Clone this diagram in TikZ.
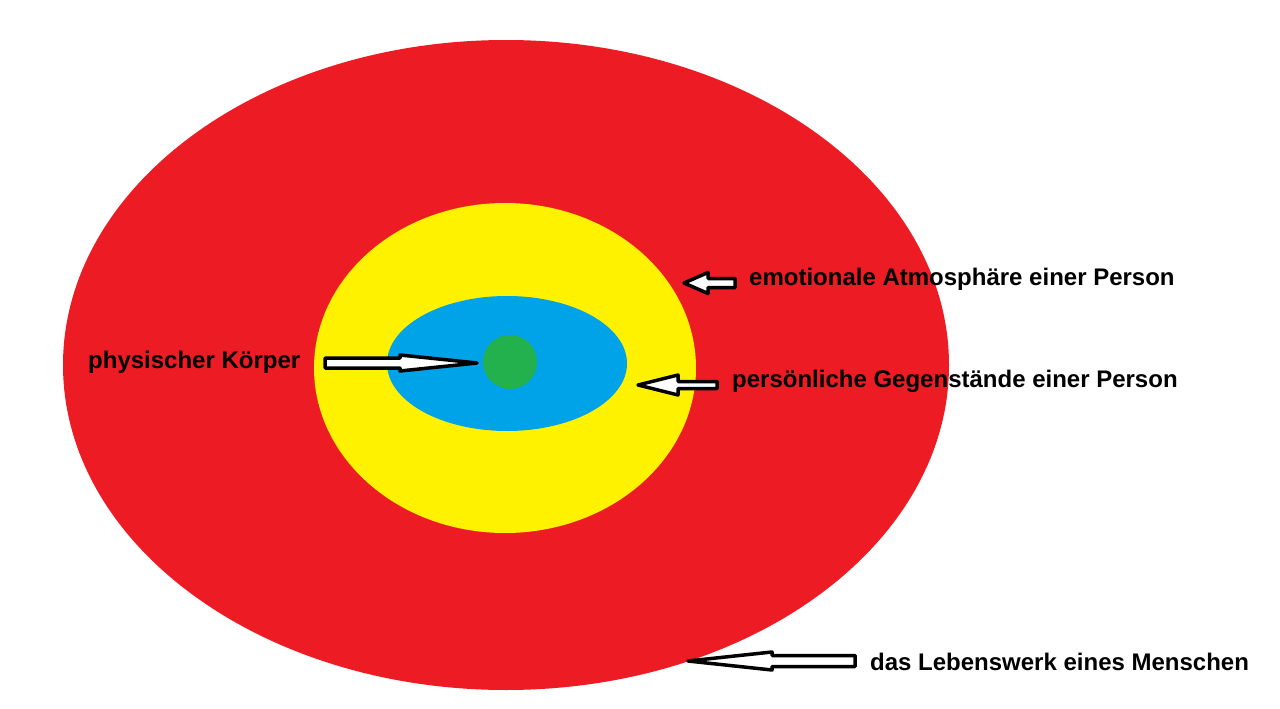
\documentclass[tikz,border=0pt]{standalone}
\usepackage{fontspec}
\setmainfont{Liberation Sans}
\definecolor{ringred}{HTML}{ED1C24}
\definecolor{ringyellow}{HTML}{FFF200}
\definecolor{ringblue}{HTML}{00A2E8}
\definecolor{ringgreen}{HTML}{22B14C}
\tikzset{
  lbl/.style={font=\bfseries\fontsize{24}{28}\selectfont, text=black, inner sep=0pt, anchor=west},
  hollowarrow/.style={draw=black, fill=white, line width=3.5pt, line join=round},
}
% #1 tip name, #2 tail x offset, #3 head length, #4 shaft half, #5 head half
\newcommand{\hollowarr}[5]{%
  \draw[hollowarrow] (#1) -- ++(#3,-#5) -- ++(0,#5-#4) -- ++(#2-#3,0) -- ++(0,2*#4) -- ++(#3-#2,0) -- ++(0,#5-#4) -- cycle;
}
\begin{document}
\begin{tikzpicture}[x=1pt,y=-1pt]
\useasboundingbox (0,0) rectangle (1280,709);
\fill[white] (0,0) rectangle (1280,709);
\fill[ringred] (506,365) ellipse [x radius=443, y radius=325];
\fill[ringyellow] (505,368) ellipse [x radius=191, y radius=165];
\fill[ringblue] (507,363.5) ellipse [x radius=120, y radius=67.5];
\node[circle, fill=ringgreen, minimum size=54pt, inner sep=0pt] (body) at (510,362) {};
\node[lbl] (t1) at (88,362) {physischer Körper};
\node[lbl] (t2) at (749,279) {emotionale Atmosphäre einer Person};
\node[lbl] (t3) at (732,381) {persönliche Gegenstände einer Person};
\node[lbl] (t4) at (870,662) {das Lebenswerk eines Menschen};
\coordinate (a1) at (477,363);
\coordinate (a2) at (684,283);
\coordinate (a3) at (638,385);
\coordinate (a4) at (688,661);
% arrow 1 points right: draw mirrored
\draw[hollowarrow] (a1) -- ++(-77,-8) -- ++(0,3) -- ++(-75,0) -- ++(0,10) -- ++(75,0) -- ++(0,3) -- cycle;
\hollowarr{a2}{51}{24}{4.5}{10.5}
\hollowarr{a3}{79}{40}{3.5}{10}
\hollowarr{a4}{167}{84}{5.5}{9}
\end{tikzpicture}
\end{document}
